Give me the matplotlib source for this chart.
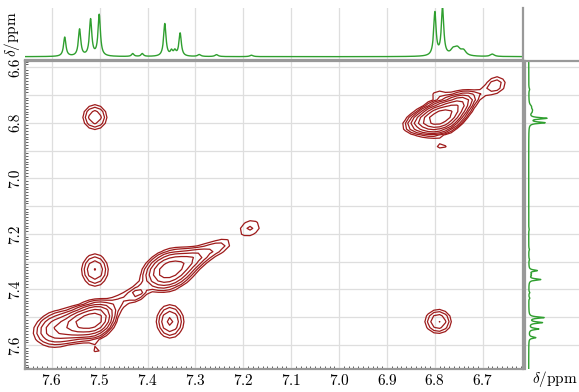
import numpy as np
import matplotlib.pyplot as plt
from matplotlib.ticker import MultipleLocator

plt.rcParams['mathtext.fontset'] = 'cm'
plt.rcParams['font.family'] = ['cmr10', 'DejaVu Serif']
plt.rcParams['axes.formatter.use_mathtext'] = True

h_ppm = [7.573, 7.542, 7.519, 7.501, 7.431, 7.411, 7.364, 7.350, 7.343, 7.332,
         7.292, 7.256, 7.183, 6.800, 6.784, 6.762, 6.753, 6.740, 6.680]
h_height = [0.40, 0.56, 0.76, 0.86, 0.06, 0.06, 0.68, 0.10, 0.10, 0.48,
            0.04, 0.04, 0.03, 0.90, 1.00, 0.10, 0.16, 0.10, 0.05]
h_width = [0.003, 0.003, 0.003, 0.003, 0.003, 0.003, 0.003, 0.003, 0.003, 0.003,
           0.004, 0.004, 0.004, 0.003, 0.003, 0.006, 0.008, 0.006, 0.005]

# 2D cross / diagonal peaks: f2 (x), f1 (y), amplitude, widths, tilt
pk_x = [7.510, 6.790, 6.750, 6.835, 6.673, 6.715, 6.795, 6.786,
        7.186, 7.355, 7.300, 7.250, 7.420, 7.455,
        7.510, 7.585, 7.545, 7.505,
        7.510, 7.353, 6.793]
pk_y = [6.780, 6.782, 6.735, 6.800, 6.665, 6.705, 6.690, 6.880,
        7.179, 7.330, 7.285, 7.245, 7.415, 7.440,
        7.510, 7.540, 7.520, 7.615,
        7.330, 7.515, 7.515]
pk_amp = [2.6, 14.0, 5.0, 2.5, 1.8, 0.9, 1.1, 1.6,
          1.5, 7.0, 2.5, 1.5, 1.8, 1.4,
          9.0, 4.0, 4.0, 1.3,
          2.8, 3.0, 2.8]
pk_sx = [0.018, 0.025, 0.020, 0.022, 0.018, 0.020, 0.020, 0.012,
         0.022, 0.030, 0.025, 0.022, 0.012, 0.025,
         0.022, 0.032, 0.018, 0.010,
         0.019, 0.019, 0.019]
pk_sy = [0.032, 0.030, 0.028, 0.025, 0.028, 0.022, 0.018, 0.010,
         0.030, 0.040, 0.028, 0.025, 0.018, 0.035,
         0.035, 0.040, 0.030, 0.014,
         0.040, 0.040, 0.030]
pk_rho = [0.0, 0.3, 0.4, 0.3, 0.2, 0.6, 0.0, 0.0,
          0.2, 0.3, 0.5, 0.4, 0.3, 0.6,
          0.2, 0.2, 0.2, 0.0,
          0.0, 0.0, 0.0]

green = '#2f9f2f'
red = '#9e1b1b'
grey = '#999999'
gridc = '#dedede'

xlim = (7.656, 6.616)
ylim = (7.686, 6.578)


def proton(ppm):
    s = np.zeros_like(ppm)
    for c, h, w in zip(h_ppm, h_height, h_width):
        s += h * w**2 / ((ppm - c)**2 + w**2)
    return s


fig = plt.figure(figsize=(5.79, 3.92), dpi=100)
ax = fig.add_axes([25/579, 1-369/392, 498/579, 308/392])
axt = fig.add_axes([25/579, 1-60/392, 498/579, 52/392], sharex=ax)
axr = fig.add_axes([525/579, 1-369/392, 54/579, 308/392], sharey=ax)

# contour map (coarse grid, like the processed 2D data)
gx = np.arange(6.55, 7.72, 0.012)
gy = np.arange(6.55, 7.72, 0.021)
X, Y = np.meshgrid(gx, gy)
Z = np.zeros_like(X)
for x0, y0, a, sx, sy, r in zip(pk_x, pk_y, pk_amp, pk_sx, pk_sy, pk_rho):
    dx = (X - x0) / sx
    dy = (Y - y0) / sy
    Z += a * np.exp(-(dx**2 - 2*r*dx*dy + dy**2) / (2*(1 - r**2)))
levels = 1.0 * 1.4**np.arange(10)
ax.contour(X, Y, Z, levels=levels, colors=red, linewidths=0.9)

ax.set_xlim(*xlim)
ax.set_ylim(*ylim)
ax.xaxis.set_major_locator(MultipleLocator(0.1))
ax.xaxis.set_minor_locator(MultipleLocator(0.01))
ax.yaxis.set_minor_locator(MultipleLocator(0.01))
ax.set_yticks(np.arange(6.6, 7.65, 0.1), minor=False)
ax.set_yticklabels(['6.6', '', '6.8', '', '7.0', '', '7.2', '', '7.4', '', '7.6'],
                   rotation=90, va='center')
ax.grid(True, color=gridc, lw=0.9)
ax.set_axisbelow(True)
ax.tick_params(which='both', direction='in', length=2.5, width=0.6, color='#444444',
               labelsize=11, pad=3)
ax.tick_params(which='major', length=0)
ax.tick_params(axis='y', pad=2)
for s in ax.spines.values():
    s.set_color(grey)
    s.set_linewidth(1.6)

# top projection
xs = np.linspace(6.55, 7.72, 6000)
axt.plot(xs, proton(xs), color=green, lw=1.0)
axt.set_ylim(-0.069, 1.014)
axt.grid(True, axis='x', color=gridc, lw=0.9)
axt.tick_params(which='both', length=0, labelbottom=False, labelleft=False)
axt.set_yticks([])
axt.spines['top'].set_visible(False)
axt.spines['left'].set_visible(False)
axt.spines['bottom'].set_color(grey)
axt.spines['right'].set_color(grey)
axt.spines['bottom'].set_linewidth(1.6)
axt.spines['right'].set_linewidth(1.6)
axt.set_ylabel(r'$\delta$/ppm', fontsize=11, labelpad=2)

# side projection
ys = np.linspace(6.55, 7.72, 6000)
axr.plot(proton(ys), ys, color=green, lw=1.0)
axr.set_xlim(-0.211, 2.874)
axr.grid(True, axis='y', color=gridc, lw=0.9)
axr.tick_params(which='both', length=0, labelbottom=False, labelleft=False)
axr.set_xticks([])
axr.spines['right'].set_visible(False)
axr.spines['bottom'].set_visible(False)
axr.spines['left'].set_color(grey)
axr.spines['top'].set_color(grey)
axr.spines['left'].set_linewidth(1.6)
axr.spines['top'].set_linewidth(1.6)

fig.text(532/579, 1-379/392, r'$\delta$/ppm', fontsize=11, va='center', ha='left')

fig.savefig('out.png', dpi=100)
